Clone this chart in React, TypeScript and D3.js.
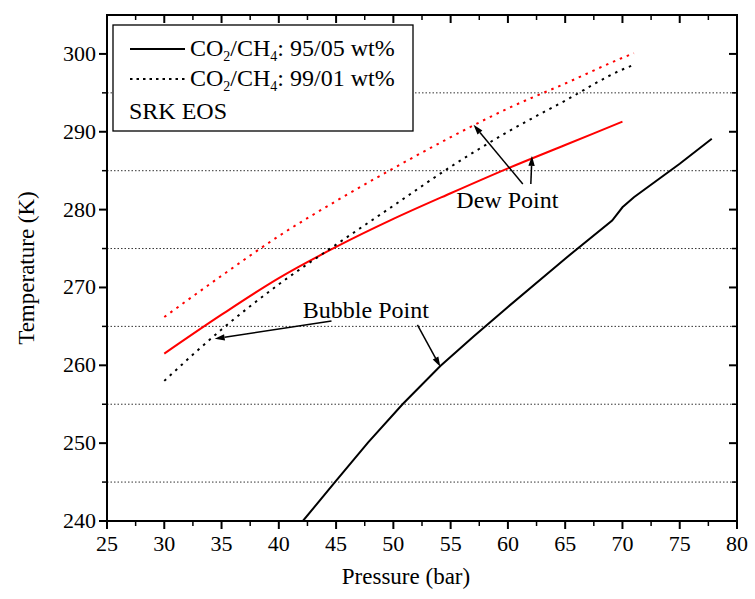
import React from "react";
import * as d3 from "d3";

// Axis ticks
const pressureTicks = [25, 30, 35, 40, 45, 50, 55, 60, 65, 70, 75, 80];
const pressureMinor = [27.5, 32.5, 37.5, 42.5, 47.5, 52.5, 57.5, 62.5, 67.5, 72.5, 77.5];
const temperatureTicks = [240, 250, 260, 270, 280, 290, 300];
const gridTemps = [245, 255, 265, 275, 285, 295];

// CO2/CH4 95/05 wt% — dew point (red solid)
const dew95P = [30, 35, 40, 45, 50, 55, 60, 65, 70];
const dew95T = [261.5, 266.5, 271.2, 275.2, 278.8, 282.1, 285.3, 288.3, 291.3];

// CO2/CH4 99/01 wt% — dew point (red dotted)
const dew99P = [30, 35, 40, 45, 50, 55, 60, 65, 70, 71];
const dew99T = [266.2, 271.5, 276.6, 281.1, 285.3, 289.3, 293.0, 296.2, 299.5, 300.1];

// CO2/CH4 99/01 wt% — bubble point (black dotted)
const bub99P = [30, 35, 40, 45, 50, 55, 60, 65, 70, 71];
const bub99T = [258.0, 264.6, 270.4, 275.5, 280.5, 285.5, 290.0, 294.0, 298.0, 298.6];

// CO2/CH4 95/05 wt% — bubble point (black solid)
const bub95P = [42.1, 44.9, 47.8, 50.8, 54.1, 57.0, 60, 65, 69.1, 70, 71, 75, 77.8];
const bub95T = [240.0, 245.0, 250.1, 255.0, 259.9, 263.7, 267.5, 273.7, 278.6, 280.3, 281.6, 285.9, 289.1];

// Annotation anchors in data units: [pressure, temperature]
const dewLabel = { text: "Dew Point", at: [55.5, 280.2] };
const dewArrows = [
  { from: [61.3, 283.3], to: [57.0, 290.9] },
  { from: [62.0, 283.3], to: [62.1, 286.9] },
];
const bubbleLabel = { text: "Bubble Point", at: [42.1, 266.1] };
const bubbleArrows = [
  { from: [44.6, 265.7], to: [34.4, 263.4] },
  { from: [52.1, 265.2], to: [54.1, 259.8] },
];

const W = 755;
const H = 599;
const left = 107;
const right = 737;
const top = 15;
const bottom = 521;

const FONT = "'Liberation Serif', 'Times New Roman', serif";

export default function App() {
  const x = d3.scaleLinear().domain([25, 80]).range([left, right]);
  const y = d3.scaleLinear().domain([240, 305]).range([bottom, top]);

  const smooth = d3
    .line<[number, number]>()
    .x((d) => x(d[0]))
    .y((d) => y(d[1]))
    .curve(d3.curveMonotoneX);
  const straight = d3
    .line<[number, number]>()
    .x((d) => x(d[0]))
    .y((d) => y(d[1]));

  const zip = (ps: number[], ts: number[]) => ps.map((p, i) => [p, ts[i]] as [number, number]);

  const series = [
    { d: zip(dew95P, dew95T), color: "#ff0000", dash: undefined, gen: smooth },
    { d: zip(dew99P, dew99T), color: "#ff0000", dash: "2.5 5", gen: smooth },
    { d: zip(bub99P, bub99T), color: "#000000", dash: "2.5 5", gen: smooth },
    { d: zip(bub95P, bub95T), color: "#000000", dash: undefined, gen: straight },
  ];

  const arrow = (a: { from: number[]; to: number[] }, key: string) => {
    const x1 = x(a.from[0]);
    const y1 = y(a.from[1]);
    const x2 = x(a.to[0]);
    const y2 = y(a.to[1]);
    const ang = Math.atan2(y2 - y1, x2 - x1);
    const L = 10;
    const Wd = 3.2;
    const bx = x2 - L * Math.cos(ang);
    const by = y2 - L * Math.sin(ang);
    const px = -Math.sin(ang) * Wd;
    const py = Math.cos(ang) * Wd;
    return (
      <g key={key}>
        <line x1={x1} y1={y1} x2={bx} y2={by} stroke="#000" strokeWidth={1.5} />
        <path d={`M${x2},${y2}L${bx + px},${by + py}L${bx - px},${by - py}Z`} fill="#000" />
      </g>
    );
  };

  const legendX = 113;
  const legendY = 25;

  return (
    <svg
      width={W}
      height={H}
      style={{ position: "absolute", left: 0, top: 0, background: "#fff" }}
      fontFamily={FONT}
    >
      <rect x={0} y={0} width={W} height={H} fill="#fff" />
      <defs>
        <clipPath id="plotClip">
          <rect x={left} y={top} width={right - left} height={bottom - top} />
        </clipPath>
      </defs>

      {/* horizontal dotted grid */}
      {gridTemps.map((t) => (
        <line
          key={t}
          x1={left}
          x2={right}
          y1={y(t)}
          y2={y(t)}
          stroke="#333"
          strokeWidth={1}
          strokeDasharray="1.5 2"
        />
      ))}

      {/* curves */}
      <g clipPath="url(#plotClip)">
        {series.map((s, i) => (
          <path
            key={i}
            d={s.gen(s.d) || ""}
            fill="none"
            stroke={s.color}
            strokeWidth={2}
            strokeDasharray={s.dash}
          />
        ))}
      </g>

      {/* legend */}
      <rect
        x={legendX}
        y={legendY}
        width={300}
        height={106}
        fill="#fff"
        stroke="#000"
        strokeWidth={1.3}
      />
      <line x1={130} x2={185} y1={49} y2={49} stroke="#000" strokeWidth={2} />
      <line x1={130} x2={185} y1={79} y2={79} stroke="#000" strokeWidth={2} strokeDasharray="2.5 4" />
      {["95/05", "99/01"].map((r, i) => (
        <text key={r} x={190} y={56 + i * 30} fontSize={24} fill="#000">
          CO
          <tspan fontSize={14} dy={5}>2</tspan>
          <tspan dy={-5}>/CH</tspan>
          <tspan fontSize={14} dy={5}>4</tspan>
          <tspan dy={-5}>{`: ${r} wt%`}</tspan>
        </text>
      ))}
      <text x={129} y={119} fontSize={24} fill="#000">
        SRK EOS
      </text>

      {/* annotations */}
      <text x={x(dewLabel.at[0])} y={y(dewLabel.at[1])} fontSize={24} fill="#000">
        {dewLabel.text}
      </text>
      {dewArrows.map((a, i) => arrow(a, "d" + i))}
      <text x={x(bubbleLabel.at[0])} y={y(bubbleLabel.at[1])} fontSize={24} fill="#000">
        {bubbleLabel.text}
      </text>
      {bubbleArrows.map((a, i) => arrow(a, "b" + i))}

      {/* frame */}
      <rect x={left} y={top} width={right - left} height={bottom - top} fill="none" stroke="#000" strokeWidth={2} />

      {/* bottom axis outward ticks, top axis inward ticks */}
      {pressureTicks.map((p) => (
        <g key={"xb" + p}>
          <line x1={x(p)} x2={x(p)} y1={bottom} y2={bottom + 8} stroke="#000" strokeWidth={2} />
          <line x1={x(p)} x2={x(p)} y1={top} y2={top + 8} stroke="#000" strokeWidth={2} />
          <text x={x(p)} y={bottom + 30} fontSize={22} textAnchor="middle" fill="#000">
            {p}
          </text>
        </g>
      ))}
      {pressureMinor.map((p) => (
        <g key={"xm" + p}>
          <line x1={x(p)} x2={x(p)} y1={bottom} y2={bottom + 5} stroke="#000" strokeWidth={1.5} />
          <line x1={x(p)} x2={x(p)} y1={top} y2={top + 5} stroke="#000" strokeWidth={1.5} />
        </g>
      ))}

      {/* left axis outward ticks, right axis inward ticks */}
      {temperatureTicks.map((t) => (
        <g key={"yl" + t}>
          <line x1={left - 8} x2={left} y1={y(t)} y2={y(t)} stroke="#000" strokeWidth={2} />
          <line x1={right - 8} x2={right} y1={y(t)} y2={y(t)} stroke="#000" strokeWidth={2} />
          <text x={left - 11} y={y(t) + 7} fontSize={22} textAnchor="end" fill="#000">
            {t}
          </text>
        </g>
      ))}
      {gridTemps.map((t) => (
        <g key={"ym" + t}>
          <line x1={left - 5} x2={left} y1={y(t)} y2={y(t)} stroke="#000" strokeWidth={1.5} />
          <line x1={right - 5} x2={right} y1={y(t)} y2={y(t)} stroke="#000" strokeWidth={1.5} />
        </g>
      ))}

      {/* axis titles */}
      <text x={(left + right) / 2 - 16} y={584} fontSize={23} textAnchor="middle" fill="#000">
        Pressure (bar)
      </text>
      <text
        transform={`translate(34, ${(top + bottom) / 2}) rotate(-90)`}
        fontSize={23}
        textAnchor="middle"
        fill="#000"
      >
        Temperature (K)
      </text>
    </svg>
  );
}
